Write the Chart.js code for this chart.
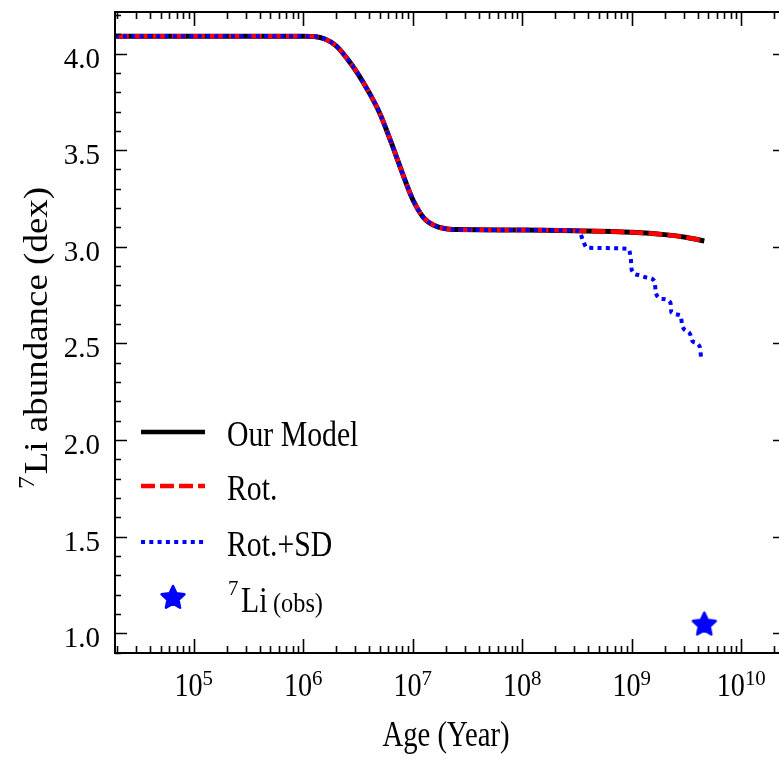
<!DOCTYPE html>
<html>
<head>
<meta charset="utf-8">
<script src="https://cdn.jsdelivr.net/npm/chart.js@4.4.1/dist/chart.umd.min.js"></script>
<style>
  html, body { margin: 0; padding: 0; background: #fff; overflow: hidden; }
  #wrap { width: 790px; height: 760px; }
</style>
</head>
<body>
<div id="wrap"><canvas id="liChart" width="790" height="760"></canvas></div>
<script>
// Li depletion tracks, age in years, abundance in dex
const modelAge = [1.9e4, 1e5, 1e6, 1.26e6, 1.58e6, 2.0e6, 2.51e6, 3.16e6, 3.98e6, 5.01e6, 6.31e6, 7.94e6, 1e7, 1.26e7, 1.58e7, 2.0e7, 2.51e7, 1e8, 3e8, 1e9, 2e9, 3.2e9, 4.6e9];
const modelLi  = [4.09, 4.09, 4.09, 4.088, 4.075, 4.04, 3.975, 3.895, 3.80, 3.69, 3.545, 3.39, 3.245, 3.15, 3.11, 3.093, 3.089, 3.087, 3.083, 3.075, 3.063, 3.048, 3.03];

const rotAge = [1.9e4, 1e5, 1e6, 1.26e6, 1.58e6, 2.0e6, 2.51e6, 3.16e6, 3.98e6, 5.01e6, 6.31e6, 7.94e6, 1e7, 1.26e7, 1.58e7, 2.0e7, 2.51e7, 1e8, 3e8, 1e9, 2e9, 3.2e9, 4.6e9];
const rotLi  = [4.09, 4.09, 4.09, 4.088, 4.075, 4.04, 3.975, 3.895, 3.80, 3.69, 3.545, 3.39, 3.245, 3.15, 3.11, 3.093, 3.089, 3.087, 3.083, 3.075, 3.063, 3.048, 3.03];

const sdAge = [1.9e4, 1e5, 1e6, 1.26e6, 1.58e6, 2.0e6, 2.51e6, 3.16e6, 3.98e6, 5.01e6, 6.31e6, 7.94e6, 1e7, 1.26e7, 1.58e7, 2.0e7, 2.51e7, 1e8,
               3.3e8, 3.6e8, 3.9e8, 9.2e8, 9.8e8, 1.0e9, 1.13e9, 1.4e9, 1.62e9, 1.66e9, 1.9e9, 2.26e9, 2.3e9,
               2.79e9, 2.9e9, 3.4e9, 3.6e9, 4.2e9, 4.3e9];
const sdLi  = [4.09, 4.09, 4.09, 4.088, 4.075, 4.04, 3.975, 3.895, 3.80, 3.69, 3.545, 3.39, 3.245, 3.15, 3.11, 3.093, 3.089, 3.087,
               3.082, 3.03, 2.995, 2.99, 2.94, 2.88, 2.855, 2.84, 2.82, 2.76, 2.73, 2.71, 2.66,
               2.645, 2.59, 2.55, 2.51, 2.48, 2.42];

const obsAge = [4.6e9];
const obsLi  = [1.05];

// axis ticks
const xExponents = [5, 6, 7, 8, 9, 10];
const yTickValues = [1.0, 1.5, 2.0, 2.5, 3.0, 3.5, 4.0];
const yTickLabels = ['1.0', '1.5', '2.0', '2.5', '3.0', '3.5', '4.0'];

const SERIF = '"Liberation Serif", "Times New Roman", Times, serif';
const BLUE = '#0000ff';

function pts(xs, ys) { return xs.map((x, i) => ({ x: x, y: ys[i] })); }

// filled five-point star used as the point marker
function makeStar(size) {
  const c = document.createElement('canvas');
  c.width = size; c.height = size;
  const g = c.getContext('2d');
  const cx = size / 2, cy = size / 2 + 1, ro = size / 2 - 2, ri = ro * 0.48;
  g.beginPath();
  for (let i = 0; i < 10; i++) {
    const r = i % 2 ? ri : ro;
    const a = -Math.PI / 2 + i * Math.PI / 5;
    const px = cx + r * Math.cos(a), py = cy + r * Math.sin(a);
    if (i === 0) g.moveTo(px, py); else g.lineTo(px, py);
  }
  g.closePath();
  g.fillStyle = BLUE; g.strokeStyle = BLUE;
  g.lineWidth = 2.5; g.lineJoin = 'round';
  g.fill(); g.stroke();
  return c;
}
const starImg = makeStar(28);

function txt(ctx, s, x, y, size, sx, align) {
  ctx.save();
  ctx.font = size + 'px ' + SERIF;
  ctx.translate(x, y);
  ctx.scale(sx, 1);
  ctx.textAlign = align || 'left';
  ctx.textBaseline = 'alphabetic';
  ctx.fillStyle = '#000';
  ctx.fillText(s, 0, 0);
  const w = ctx.measureText(s).width * sx;
  ctx.restore();
  return w;
}
function width(ctx, s, size, sx) {
  ctx.save();
  ctx.font = size + 'px ' + SERIF;
  const w = ctx.measureText(s).width * sx;
  ctx.restore();
  return w;
}

// frame, inward ticks on all sides, tick labels, titles and legend
const axesPlugin = {
  id: 'axesPlugin',
  afterDraw(chart) {
    const ctx = chart.ctx;
    const a = chart.chartArea;
    const xs = chart.scales.x, ys = chart.scales.y;
    ctx.save();
    ctx.strokeStyle = '#000';
    ctx.lineWidth = 2;
    ctx.strokeRect(a.left, a.top, a.right - a.left, a.bottom - a.top);

    // x ticks
    ctx.lineWidth = 1.6;
    for (let n = 4; n <= 10; n++) {
      for (let k = 1; k <= 9; k++) {
        const v = k * Math.pow(10, n);
        if (v < xs.min || v > xs.max) continue;
        const px = Math.round(xs.getPixelForValue(v)) + 0.5;
        const len = k === 1 ? 14 : 7;
        ctx.beginPath();
        ctx.moveTo(px, a.bottom); ctx.lineTo(px, a.bottom - len);
        ctx.moveTo(px, a.top); ctx.lineTo(px, a.top + len);
        ctx.stroke();
      }
    }
    // y ticks every 0.1, long ones every 0.5
    for (let i = 9; i <= 42; i++) {
      const v = i / 10;
      const py = Math.round(ys.getPixelForValue(v)) + 0.5;
      const len = i % 5 === 0 ? 12 : 6;
      ctx.beginPath();
      ctx.moveTo(a.left, py); ctx.lineTo(a.left + len, py);
      ctx.moveTo(a.right, py); ctx.lineTo(a.right - len, py);
      ctx.stroke();
    }

    // y tick labels
    yTickValues.forEach((v, i) => {
      const py = ys.getPixelForValue(v);
      txt(ctx, yTickLabels[i], 100, py + 14, 29, 1, 'right');
    });

    // x tick labels as powers of ten
    xExponents.forEach(e => {
      const px = xs.getPixelForValue(Math.pow(10, e));
      const wb = width(ctx, '10', 34, 0.83);
      const ws = width(ctx, String(e), 22, 0.95);
      const x0 = px - (wb + ws) / 2;
      txt(ctx, '10', x0, 696, 34, 0.83);
      txt(ctx, String(e), x0 + wb, 685, 22, 0.95);
    });

    // x title
    txt(ctx, 'Age (Year)', (a.left + a.right) / 2 - 4, 746, 35, 0.82, 'center');

    // y title, rotated, with superscript mass number
    ctx.save();
    ctx.translate(47, 338);
    ctx.rotate(-Math.PI / 2);
    const w7 = width(ctx, '7', 23, 1.12);
    const wm = width(ctx, 'Li abundance (dex)', 33, 1.12);
    const start = -(w7 + 2 + wm) / 2;
    txt(ctx, '7', start, -13, 23, 1.12);
    txt(ctx, 'Li abundance (dex)', start + w7 + 2, 0, 33, 1.12);
    ctx.restore();

    // legend
    const lx0 = 141, lx1 = 205, tx = 227;
    const rows = [
      { y: 432, color: '#000', dash: [], lw: 4.5, label: 'Our Model' },
      { y: 486, color: '#ff0000', dash: [14, 5], lw: 4.5, label: 'Rot.' },
      { y: 542, color: BLUE, dash: [4, 4.3], lw: 4, label: 'Rot.+SD' }
    ];
    rows.forEach(r => {
      ctx.save();
      ctx.strokeStyle = r.color;
      ctx.lineWidth = r.lw;
      ctx.setLineDash(r.dash);
      ctx.beginPath();
      ctx.moveTo(lx0, r.y); ctx.lineTo(lx1, r.y);
      ctx.stroke();
      ctx.restore();
      txt(ctx, r.label, tx, r.y + 14, 35, 0.85);
    });
    ctx.drawImage(starImg, 173 - 14, 597 - 14);
    txt(ctx, '7', 228, 595, 22, 0.95);
    txt(ctx, 'Li', 241, 612, 35, 0.85);
    txt(ctx, '(obs)', 273, 612, 27, 0.9);
    ctx.restore();
  }
};

new Chart(document.getElementById('liChart'), {
  type: 'line',
  data: {
    datasets: [
      {
        label: '7Li (obs)',
        type: 'scatter',
        data: pts(obsAge, obsLi),
        pointStyle: starImg,
        showLine: false,
        order: 0
      },
      {
        label: 'Rot.+SD',
        data: pts(sdAge, sdLi),
        borderColor: BLUE,
        borderWidth: 4,
        borderDash: [4, 4.3],
        pointRadius: 0,
        cubicInterpolationMode: 'monotone',
        order: 1
      },
      {
        label: 'Rot.',
        data: pts(rotAge, rotLi),
        borderColor: '#ff0000',
        borderWidth: 4.5,
        borderDash: [14, 5],
        pointRadius: 0,
        cubicInterpolationMode: 'monotone',
        order: 2
      },
      {
        label: 'Our Model',
        data: pts(modelAge, modelLi),
        borderColor: '#000',
        borderWidth: 5,
        pointRadius: 0,
        cubicInterpolationMode: 'monotone',
        order: 3
      }
    ]
  },
  options: {
    responsive: false,
    animation: false,
    devicePixelRatio: 1,
    layout: { padding: { left: 115, right: 2, top: 12, bottom: 107 } },
    plugins: { legend: { display: false }, tooltip: { enabled: false } },
    scales: {
      x: { type: 'logarithmic', min: 1.91e4, max: 2.51e10, display: false },
      y: { type: 'linear', min: 0.898, max: 4.215, display: false }
    }
  },
  plugins: [axesPlugin]
});
</script>
</body>
</html>
